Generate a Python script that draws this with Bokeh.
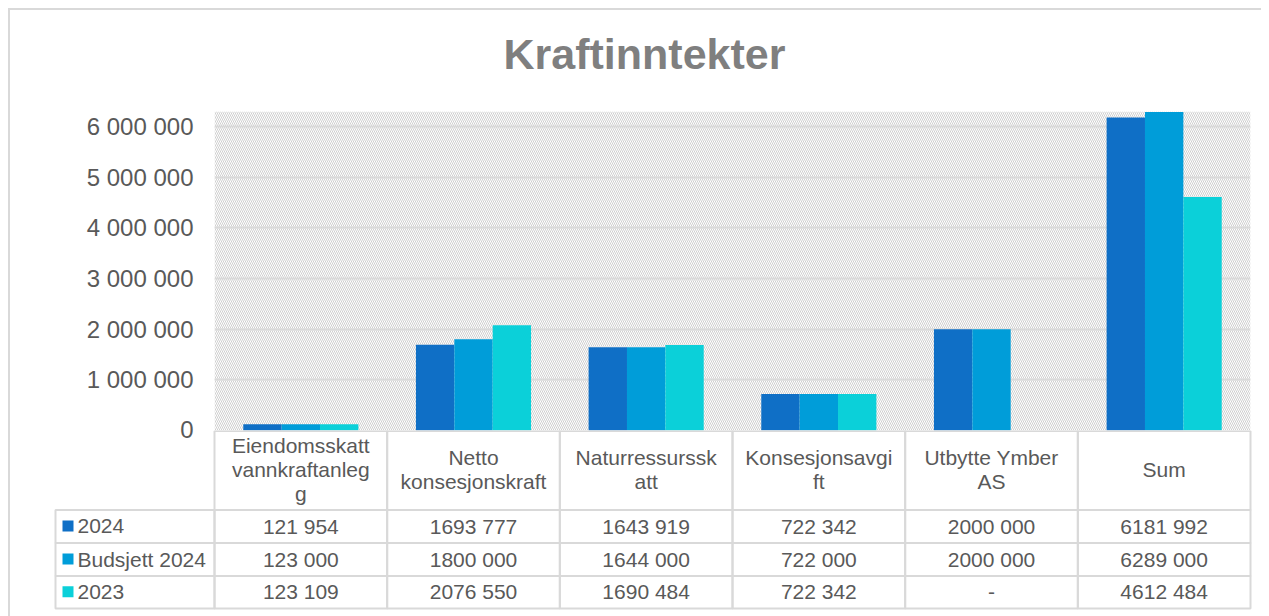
from bokeh.plotting import figure
from bokeh.models import ColumnDataSource, FactorRange, Range1d, FixedTicker, BoxAnnotation
from bokeh.transform import dodge
from bokeh.layouts import column
from bokeh.embed import file_html
from bokeh.resources import INLINE
from bokeh.core.properties import value

# ---------------- data ----------------
title_text = "Kraftinntekter"
categories = ["Eiendomsskatt vannkraftanlegg", "Netto konsesjonskraft", "Naturressursskatt",
              "Konsesjonsavgift", "Utbytte Ymber AS", "Sum"]
header_labels = ["Eiendomsskatt\nvannkraftanleg\ng", "Netto\nkonsesjonskraft", "Naturressurssk\natt",
                 "Konsesjonsavgi\nft", "Utbytte Ymber\nAS", "Sum"]
series_names = ["2024", "Budsjett 2024", "2023"]
values_2024 = [121954, 1693777, 1643919, 722342, 2000000, 6181992]
values_budsjett_2024 = [123000, 1800000, 1644000, 722000, 2000000, 6289000]
values_2023 = [123109, 2076550, 1690484, 722342, None, 4612484]
series_colors = ["#0F6FC6", "#009DD9", "#0BD0D9"]
y_ticks = [0, 1000000, 2000000, 3000000, 4000000, 5000000, 6000000]
y_tick_labels = ["0", "1 000 000", "2 000 000", "3 000 000", "4 000 000", "5 000 000", "6 000 000"]

FONT = "Liberation Sans"
TXT = "#595959"
GRID = "#d9d9d9"

all_series = [values_2024, values_budsjett_2024, values_2023]


def fmt(v):
    if v is None:
        return "-"
    return f"{v // 1000} {v % 1000:03d}"


W = 1251

# ---------------- title strip ----------------
tf = figure(x_range=Range1d(0, W), y_range=Range1d(0, 80), width=W, height=80,
            output_backend="svg", toolbar_location=None,
            min_border_left=0, min_border_right=0, min_border_top=0, min_border_bottom=0,
            outline_line_color=None, background_fill_color="white", border_fill_color="white")
tf.frame_align = False
tf.axis.visible = False
tf.grid.visible = False
tf.text(x=[634], y=[37], text=[title_text], text_font=value(FONT), text_font_size="43px",
        text_font_style="bold", text_color="#7f7f7f", text_align="center",
        text_baseline="middle")

# ---------------- bar chart ----------------
p = figure(x_range=FactorRange(factors=categories, range_padding=0),
           y_range=Range1d(0, 6300000),
           width=W, height=352, output_backend="svg", toolbar_location=None,
           min_border_left=204, min_border_right=11, min_border_top=21, min_border_bottom=12,
           outline_line_color=None, background_fill_color="white", border_fill_color="white")
p.frame_align = False

p.add_layout(BoxAnnotation(fill_color="white", fill_alpha=1, line_color=None,
                           hatch_pattern="\\", hatch_color="#cfcfcf", hatch_scale=4,
                           hatch_weight=1, level="image"))

src = ColumnDataSource(dict(
    cat=categories,
    s0=[v or 0 for v in values_2024],
    s1=[v or 0 for v in values_budsjett_2024],
    s2=[v or 0 for v in values_2023],
))
bw = 1 / 4.5
for k, off in enumerate([-bw, 0, bw]):
    p.vbar(x=dodge("cat", off, range=p.x_range), top=f"s{k}", width=bw, source=src,
           fill_color=series_colors[k], line_color=None)

p.xaxis.visible = False
p.xgrid.visible = False
p.yaxis.ticker = FixedTicker(ticks=y_ticks)
p.yaxis.major_label_overrides = {t: l for t, l in zip(y_ticks, y_tick_labels)}
p.yaxis.axis_line_color = None
p.yaxis.major_tick_line_color = None
p.yaxis.minor_tick_line_color = None
p.yaxis.major_tick_out = 0
p.yaxis.major_tick_in = 0
p.yaxis.minor_tick_out = 0
p.yaxis.major_label_standoff = 21
p.yaxis.major_label_text_font = FONT
p.yaxis.major_label_text_font_size = "24px"
p.yaxis.major_label_text_color = TXT
p.ygrid.grid_line_color = GRID
p.ygrid.grid_line_width = 2

# ---------------- data table ----------------
U = 172.67
leg = 159 / U
pad = 2 / U
t = figure(x_range=Range1d(-leg - pad, 6 + pad), y_range=Range1d(-2, 178),
           width=W, height=186, output_backend="svg", toolbar_location=None,
           min_border_left=43, min_border_right=9, min_border_top=0, min_border_bottom=6,
           outline_line_color=None, background_fill_alpha=0, border_fill_alpha=0,
           styles={"margin-top": "-12px"})
t.frame_align = False
t.axis.visible = False
t.grid.visible = False

head_top, head_bot = 177.5, 98.5
row_tops = [98.5, 65.5, 32.5]
row_bots = [65.5, 32.5, 0]

n = len(categories)
t.quad(left=list(range(n)), right=[i + 1 for i in range(n)], top=[head_top] * n, bottom=[head_bot] * n,
       fill_color=None, line_color=GRID, line_width=2)
t.text(x=[i + 0.5 for i in range(n)], y=[(head_top + head_bot) / 2 + 1] * n, text=header_labels,
       text_font=value(FONT), text_font_size="21px", text_color=TXT,
       text_align="center", text_baseline="middle", text_line_height=1.05)

for r, vals in enumerate(all_series):
    top, bot = row_tops[r], row_bots[r]
    mid = (top + bot) / 2 + 0.5
    t.quad(left=[-leg] + list(range(n)), right=[0] + [i + 1 for i in range(n)],
           top=[top] * (n + 1), bottom=[bot] * (n + 1),
           fill_color=None, line_color=GRID, line_width=2)
    t.text(x=[i + 0.5 for i in range(n)], y=[mid] * n, text=[fmt(v) for v in vals],
           text_font=value(FONT), text_font_size="21px", text_color=TXT,
           text_align="center", text_baseline="middle")
    t.scatter(x=[-leg + 12.5 / U], y=[mid], marker="square", size=11,
              fill_color=series_colors[r], line_color=None)
    t.text(x=[-leg + 22 / U], y=[mid], text=[series_names[r]],
           text_font=value(FONT), text_font_size="21px", text_color=TXT,
           text_align="left", text_baseline="middle")

layout = column(tf, p, t, spacing=0,
                styles={"margin-left": "8px", "margin-top": "8px",
                        "border-top": "2px solid #d9d9d9", "border-left": "2px solid #d9d9d9"})

open("out.html", "w").write(file_html(layout, INLINE))
